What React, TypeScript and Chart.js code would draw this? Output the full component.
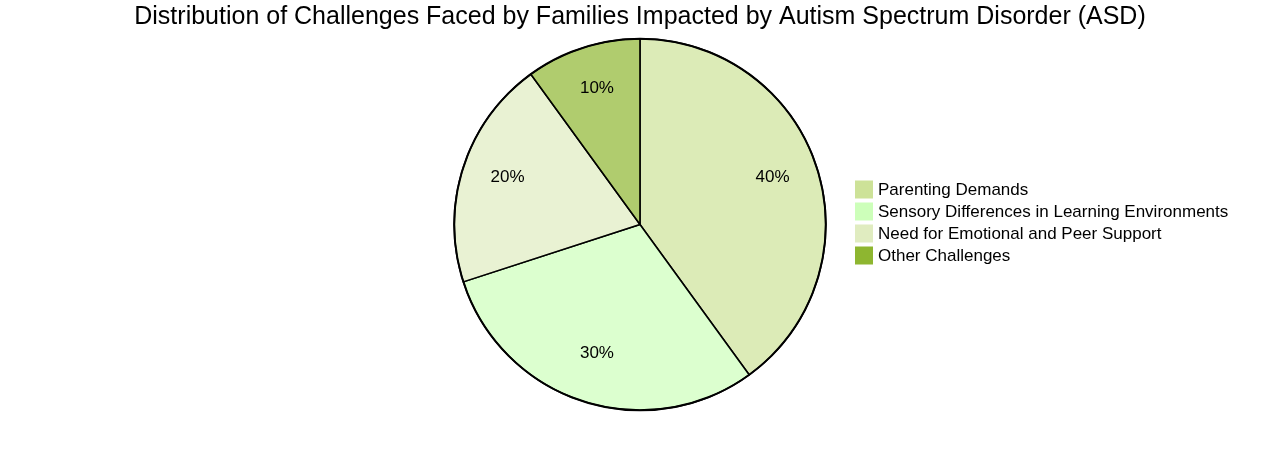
import React, { useEffect, useRef } from "react";
import { Chart, registerables } from "chart.js";

Chart.register(...registerables);

const TITLE = "Distribution of Challenges Faced by Families Impacted by Autism Spectrum Disorder (ASD)";
const categories = [
  "Parenting Demands",
  "Sensory Differences in Learning Environments",
  "Need for Emotional and Peer Support",
  "Other Challenges",
];
const values = [40, 30, 20, 10];
const colors = ["#cde298", "#cdffba", "#e0ecc0", "#8eb630"];
const sliceAlpha = 0.7;

const FONT = "'Liberation Sans', Arial, sans-serif";

function withAlpha(hex: string, a: number) {
  const r = parseInt(hex.slice(1, 3), 16);
  const g = parseInt(hex.slice(3, 5), 16);
  const b = parseInt(hex.slice(5, 7), 16);
  return `rgba(${r},${g},${b},${a})`;
}

const overlayPlugin = {
  id: "overlay",
  afterDatasetsDraw(chart: any) {
    const ctx = chart.ctx;
    const meta = chart.getDatasetMeta(0);
    const total = values.reduce((s, v) => s + v, 0);
    ctx.save();
    // percentage labels
    ctx.fillStyle = "#000";
    ctx.font = `17px ${FONT}`;
    ctx.textAlign = "center";
    ctx.textBaseline = "middle";
    meta.data.forEach((arc: any, i: number) => {
      const p = arc.getProps(["x", "y", "startAngle", "endAngle", "outerRadius"], true);
      const mid = (p.startAngle + p.endAngle) / 2;
      const rr = p.outerRadius * 0.75;
      const pct = Math.round((values[i] / total) * 100);
      ctx.fillText(`${pct}%`, p.x + Math.cos(mid) * rr, p.y + Math.sin(mid) * rr - 4);
    });
    // title
    ctx.font = `25px ${FONT}`;
    ctx.fillText(TITLE, chart.width / 2, 17);
    // outer circle
    const a0: any = meta.data[0];
    const c = a0.getProps(["x", "y", "outerRadius"], true);
    ctx.beginPath();
    ctx.arc(c.x, c.y, c.outerRadius, 0, Math.PI * 2);
    ctx.lineWidth = 2;
    ctx.strokeStyle = "#000";
    ctx.stroke();
    // legend
    const lx = c.x + 215;
    const ly0 = c.y - 44;
    ctx.font = `17px ${FONT}`;
    ctx.textAlign = "left";
    categories.forEach((name, i) => {
      const y = ly0 + i * 22;
      ctx.fillStyle = colors[i];
      ctx.fillRect(lx, y, 18, 18);
      ctx.fillStyle = "#000";
      ctx.fillText(name, lx + 23, y + 9.5);
    });
    ctx.restore();
  },
};

export default function App() {
  const ref = useRef<HTMLCanvasElement>(null);
  useEffect(() => {
    if (!ref.current) return;
    const chart = new Chart(ref.current, {
      type: "pie",
      data: {
        labels: categories,
        datasets: [
          {
            data: values,
            backgroundColor: colors.map((c) => withAlpha(c, sliceAlpha)),
            borderColor: "#000",
            borderWidth: 1.5,
          },
        ],
      },
      options: {
        responsive: false,
        animation: false,
        layout: { padding: { top: 38, bottom: 39, left: 0, right: 0 } },
        plugins: {
          legend: { display: false },
          title: { display: false },
          tooltip: { enabled: false },
        },
      },
      plugins: [overlayPlugin],
    });
    return () => chart.destroy();
  }, []);
  return (
    <div style={{ position: "absolute", left: 0, top: 0, width: 1280, height: 450, background: "#fff" }}>
      <canvas ref={ref} width={1280} height={450} style={{ width: 1280, height: 450 }} />
    </div>
  );
}
